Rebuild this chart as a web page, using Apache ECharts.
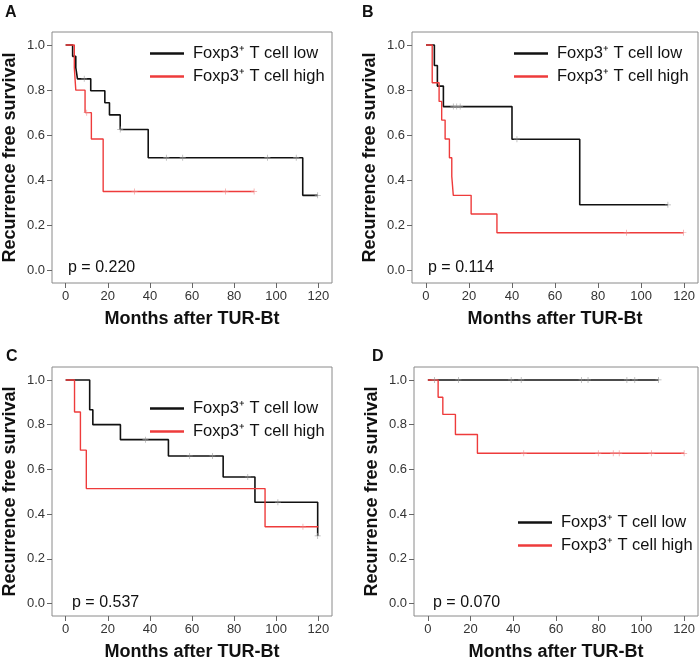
<!DOCTYPE html>
<html><head><meta charset="utf-8">
<script src="https://cdn.jsdelivr.net/npm/echarts@6/dist/echarts.min.js"></script>
<style>html,body{margin:0;padding:0;background:#fff}#c{width:700px;height:662px}</style>
</head><body><div id="c"></div>
<script>
const LOW = 'Foxp3\u207A T cell low';
const HIGH = 'Foxp3\u207A T cell high';
const xTicks = [0, 20, 40, 60, 80, 100, 120];
const yTicks = [0, 0.2, 0.4, 0.6, 0.8, 1.0];
const panelLetters = ['A', 'B', 'C', 'D'];
const pValues = ['p = 0.220', 'p = 0.114', 'p = 0.537', 'p = 0.070'];

// Kaplan-Meier step points [month, survival]
const aLow  = [[0,1],[3.3,0.95],[4.8,0.9],[5.6,0.85],[11.9,0.797],[18.6,0.744],[20.8,0.69],[25.9,0.625],[39.2,0.5],[112.6,0.333],[119.7,0.333]];
const aHigh = [[0,1],[4.1,0.9],[4.8,0.8],[9.2,0.7],[12.2,0.583],[17.8,0.35],[89.5,0.35]];
const bLow  = [[0,1],[3.9,0.909],[5.3,0.818],[8.1,0.727],[40,0.582],[71.5,0.291],[112.5,0.291]];
const bHigh = [[0,1],[2.9,0.833],[6.1,0.75],[7.3,0.667],[8.9,0.583],[10.9,0.5],[12,0.417],[12.7,0.333],[21,0.25],[33,0.167],[119.7,0.167]];
const cLow  = [[0,1],[11.4,0.867],[12.9,0.8],[26,0.733],[48.8,0.66],[74.8,0.566],[89.9,0.453],[119.7,0.302]];
const cHigh = [[0,1],[4.2,0.857],[7,0.686],[9.8,0.514],[94.7,0.343],[120,0.343]];
const dLow  = [[0,1],[108,1]];
const dHigh = [[0,1],[4.8,0.923],[7,0.846],[12.9,0.756],[23.2,0.672],[120,0.672]];

// censoring times (months)
const aLowCens  = [8.8, 25.9, 47.8, 55.6, 95.8, 109.5, 119.7];
const aHighCens = [10, 32.7, 75.9, 89.5];
const bLowCens  = [12.7, 14.3, 15.9, 42.3, 112.5];
const bHighCens = [93.3, 119.7];
const cLowCens  = [37.9, 58.9, 69.7, 86.5, 100.8, 119.7];
const cHighCens = [112.7];
const dLowCens  = [3.1, 14.3, 39, 43.7, 72, 75, 93.2, 96.9, 108];
const dHighCens = [44.9, 79.8, 86.8, 89.6, 104.7, 120];

const panels = [
  {low: aLow, high: aHigh, lowC: aLowCens, highC: aHighCens},
  {low: bLow, high: bHigh, lowC: bLowCens, highC: bHighCens},
  {low: cLow, high: cHigh, lowC: cLowCens, highC: cHighCens},
  {low: dLow, high: dHigh, lowC: dLowCens, highC: dHighCens}
];

const FONT = 'Liberation Sans, Arial, Helvetica, sans-serif';
const grids = [
  {left: 49, top: 32, width: 283, height: 251},
  {left: 412, top: 32, width: 286, height: 251},
  {left: 48, top: 367, width: 284, height: 250},
  {left: 414, top: 367, width: 284, height: 250}
];
const legendPos = [
  {left: 150, top: 45},
  {left: 514, top: 45},
  {left: 150, top: 400},
  {left: 518, top: 514}
];
const letterPos = [[5, 5], [362, 5], [6, 349], [372, 349]];
const pPos = [[68, 260], [428, 260], [72, 595], [433, 595]];

function stepValue(curve, t) {
  let v = curve[0][1];
  for (const p of curve) { if (p[0] <= t) v = p[1]; }
  return v;
}
const plus = 'path://M-0.12,-1 L0.12,-1 L0.12,-0.12 L1,-0.12 L1,0.12 L0.12,0.12 L0.12,1 L-0.12,1 L-0.12,0.12 L-1,0.12 L-1,-0.12 L-0.12,-0.12 Z';
const legendLine = 'path://M0,0 L34,0 L34,2.6 L0,2.6 Z';

const option = {
  animation: false,
  backgroundColor: '#fff',
  grid: grids.map(g => Object.assign({show: true, borderColor: '#8a8a8a', borderWidth: 1, backgroundColor: 'transparent'}, g)),
  xAxis: grids.map((g, i) => ({
    type: 'value', gridIndex: i, min: -6.5, max: 126.5,
    name: 'Months after TUR-Bt', nameLocation: 'middle', nameGap: 27,
    nameTextStyle: {fontFamily: FONT, fontWeight: 'bold', fontSize: 18, color: '#111'},
    axisLine: {show: false, onZero: false}, splitLine: {show: false},
    axisTick: {show: true, inside: false, length: 5, lineStyle: {color: '#666'}, customValues: xTicks},
    axisLabel: {fontFamily: FONT, fontSize: 13, color: '#333', margin: 7, customValues: xTicks}
  })),
  yAxis: grids.map((g, i) => ({
    type: 'value', gridIndex: i, min: -0.056, max: 1.058,
    name: 'Recurrence free survival', nameLocation: 'middle', nameGap: 33, nameRotate: 90,
    nameTextStyle: {fontFamily: FONT, fontWeight: 'bold', fontSize: 18, color: '#111'},
    axisLine: {show: false, onZero: false}, splitLine: {show: false},
    axisTick: {show: true, inside: false, length: 5, lineStyle: {color: '#666'}, customValues: yTicks},
    axisLabel: {fontFamily: FONT, fontSize: 13, color: '#333', margin: 7, customValues: yTicks,
      formatter: v => v.toFixed(1)}
  })),
  legend: legendPos.map(p => ({
    left: p.left, top: p.top, orient: 'vertical', padding: 0, itemGap: 6,
    itemWidth: 34, itemHeight: 14, icon: legendLine,
    data: [LOW, HIGH],
    textStyle: {fontFamily: FONT, fontSize: 16.5, color: '#111', padding: [0, 0, 0, 4]}
  })),
  graphic: [],
  series: []
};

panels.forEach((p, i) => {
  option.series.push({
    name: LOW, type: 'line', step: 'end', xAxisIndex: i, yAxisIndex: i,
    symbol: 'none', data: p.low, z: 2,
    lineStyle: {color: '#111', width: 1.6}, itemStyle: {color: '#111'}
  });
  option.series.push({
    name: HIGH, type: 'line', step: 'end', xAxisIndex: i, yAxisIndex: i,
    symbol: 'none', data: p.high, z: 3,
    lineStyle: {color: '#ee3b3b', width: 1.4}, itemStyle: {color: '#ee3b3b'}
  });
  option.series.push({
    name: 'censor-low-' + i, type: 'scatter', xAxisIndex: i, yAxisIndex: i,
    symbol: plus, symbolSize: 6, z: 4, silent: true,
    itemStyle: {color: '#9a9a9a'},
    data: p.lowC.map(t => [t, stepValue(p.low, t)])
  });
  option.series.push({
    name: 'censor-high-' + i, type: 'scatter', xAxisIndex: i, yAxisIndex: i,
    symbol: plus, symbolSize: 6, z: 4, silent: true,
    itemStyle: {color: '#f08a8a'},
    data: p.highC.map(t => [t, stepValue(p.high, t)])
  });
  option.graphic.push({
    type: 'text', left: letterPos[i][0], top: letterPos[i][1],
    style: {text: panelLetters[i], font: 'bold 16px ' + FONT, fill: '#111'}
  });
  option.graphic.push({
    type: 'text', left: pPos[i][0], top: pPos[i][1],
    style: {text: pValues[i], font: '16px ' + FONT, fill: '#111'}
  });
});

const chart = echarts.init(document.getElementById('c'), null, {renderer: 'canvas'});
chart.setOption(option);
</script>
</body></html>
